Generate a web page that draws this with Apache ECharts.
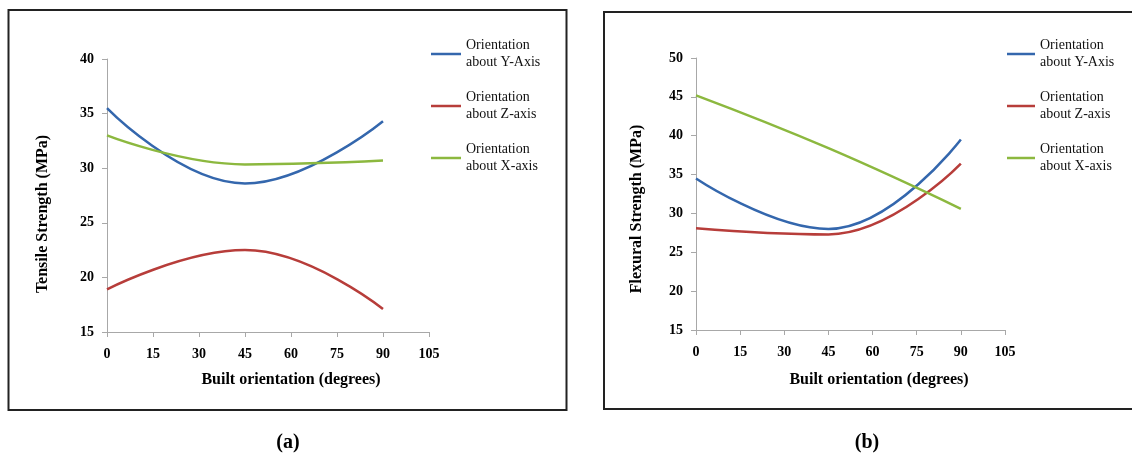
<!DOCTYPE html>
<html>
<head>
<meta charset="utf-8">
<script src="https://cdn.jsdelivr.net/npm/echarts@6/dist/echarts.min.js"></script>
<style>
html, body { margin: 0; padding: 0; background: #fff; }
#main { width: 1132px; height: 457px; }
</style>
</head>
<body>
<div id="main"></div>
<script>
// built orientation (degrees)
var angles = [0, 45, 90];
var seriesNames = ['Orientation\nabout Y-Axis', 'Orientation\nabout Z-axis', 'Orientation\nabout X-axis'];
// (a) tensile strength (MPa)
var tensileY = [35.5, 28.6, 34.3];
var tensileZ = [18.9, 22.5, 17.1];
var tensileX = [33.0, 30.35, 30.7];
// (b) flexural strength (MPa)
var flexY = [34.5, 28.0, 39.5];
var flexZ = [28.1, 27.3, 36.4];
var flexX = [45.2, 38.4, 30.6];

var colors = ['#3467ad', '#b73d3a', '#8cb83f'];
var serif = '"Liberation Serif", "Times New Roman", serif';

var chart = echarts.init(document.getElementById('main'));

function pairs(vals) {
    return angles.map(function (a, i) { return [a, vals[i]]; });
}

function makeSeries(name, vals, color, idx) {
    return {
        name: name,
        type: 'line',
        xAxisIndex: idx,
        yAxisIndex: idx,
        data: pairs(vals),
        smooth: 0.45,
        symbol: 'none',
        color: color,
        lineStyle: { color: color, width: 2.5 },
        silent: true
    };
}

var axisLine = { show: true, lineStyle: { color: '#a8a8a8', width: 1 } };
var axisTick = { show: true, length: 5, lineStyle: { color: '#a8a8a8', width: 1 } };

function xAx(idx) {
    return {
        type: 'value', gridIndex: idx, min: 0, max: 105, interval: 15,
        axisLine: axisLine, axisTick: axisTick, splitLine: { show: false },
        axisLabel: { color: '#000', fontFamily: serif, fontWeight: 'bold', fontSize: 14, margin: 15 }
    };
}
function yAx(idx, max) {
    return {
        type: 'value', gridIndex: idx, min: 15, max: max, interval: 5,
        axisLine: axisLine, axisTick: axisTick, splitLine: { show: false },
        axisLabel: { color: '#000', fontFamily: serif, fontWeight: 'bold', fontSize: 14, margin: 13 }
    };
}

function legendAt(left, w) {
    return {
        orient: 'vertical', left: left, top: 28.5, padding: 0,
        icon: 'rect', itemWidth: w, itemHeight: 2.5, itemGap: 1,
        selectedMode: false,
        textStyle: { fontFamily: serif, fontSize: 14, color: '#111', lineHeight: 17, padding: [17, 0, 0, 0] },
        data: seriesNames
    };
}

function label(text, x, y, size, rot) {
    return {
        type: 'text', x: x, y: y, rotation: rot || 0,
        style: {
            text: text, x: 0, y: 0, textAlign: 'center', textVerticalAlign: 'middle',
            font: 'bold ' + size + 'px ' + serif, fill: '#000'
        }
    };
}

option = {
    animation: false,
    backgroundColor: '#fff',
    grid: [
        { left: 107, top: 59, width: 322, height: 273 },
        { left: 696, top: 58, width: 309, height: 272 }
    ],
    xAxis: [xAx(0), xAx(1)],
    yAxis: [yAx(0, 40), yAx(1, 50)],
    legend: [legendAt(431, 30), legendAt(1007, 28)],
    graphic: [
        { type: 'rect', shape: { x: 8.5, y: 10, width: 558, height: 400 }, style: { fill: 'none', stroke: '#222', lineWidth: 2 } },
        { type: 'rect', shape: { x: 604, y: 12, width: 540, height: 397 }, style: { fill: 'none', stroke: '#222', lineWidth: 2 } },
        label('Built orientation (degrees)', 291, 380, 16),
        label('Tensile Strength (MPa)', 43, 214, 16, Math.PI / 2),
        label('Built orientation (degrees)', 879, 380, 16),
        label('Flexural Strength (MPa)', 637, 209, 16, Math.PI / 2),
        label('(a)', 288, 443, 20),
        label('(b)', 867, 443, 20)
    ],
    series: [
        makeSeries(seriesNames[0], tensileY, colors[0], 0),
        makeSeries(seriesNames[1], tensileZ, colors[1], 0),
        makeSeries(seriesNames[2], tensileX, colors[2], 0),
        makeSeries(seriesNames[0], flexY, colors[0], 1),
        makeSeries(seriesNames[1], flexZ, colors[1], 1),
        makeSeries(seriesNames[2], flexX, colors[2], 1)
    ]
};

chart.setOption(option);
</script>
</body>
</html>
